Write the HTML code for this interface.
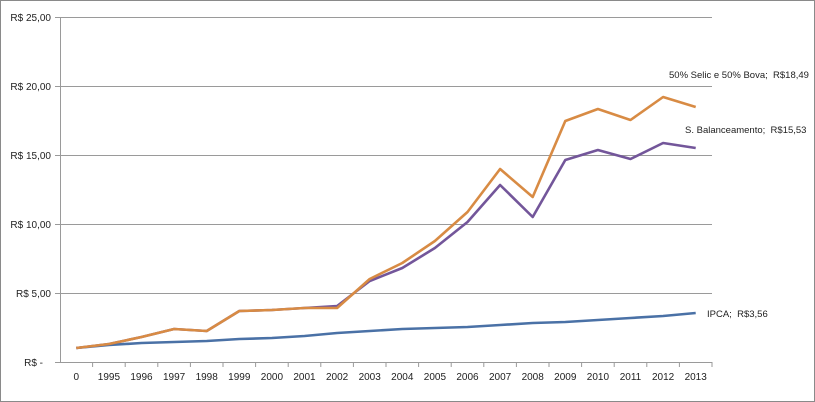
<!DOCTYPE html>
<html><head><meta charset="utf-8"><style>
html,body{margin:0;padding:0;background:#fff;}
svg{display:block;font-family:"Liberation Sans",sans-serif;}
</style></head><body>
<svg width="815" height="402" viewBox="0 0 815 402">
<rect x="0.5" y="0.5" width="814" height="401" fill="#fff" stroke="#8a8a8a"/>
<g stroke="#9a9a9a" stroke-width="1">
<line x1="55" y1="17.5" x2="712" y2="17.5"/>
<line x1="55" y1="86.5" x2="712" y2="86.5"/>
<line x1="55" y1="155.5" x2="712" y2="155.5"/>
<line x1="55" y1="224.5" x2="712" y2="224.5"/>
<line x1="55" y1="293.5" x2="712" y2="293.5"/>
<line x1="55" y1="362.5" x2="712" y2="362.5"/>
<line x1="60.5" y1="17" x2="60.5" y2="362"/>
</g>
<g stroke="#9a9a9a" id="ticks"></g>
<g font-size="10" fill="#222" text-anchor="end">
<text x="51" y="21">R$ 25,00</text>
<text x="51" y="90">R$ 20,00</text>
<text x="51" y="159">R$ 15,00</text>
<text x="51" y="228">R$ 10,00</text>
<text x="51" y="297">R$ 5,00</text>
<text x="43" y="366">R$ -</text>
</g>
<g font-size="10" fill="#222" text-anchor="middle" id="xl"></g>
<g fill="none" stroke-width="2.6" stroke-linejoin="round">
<polyline id="b" stroke="#4a71a6"/>
<polyline id="p" stroke="#73569a"/>
<polyline id="o" stroke="#d88b44"/>
</g>
<g font-size="9.5" fill="#222">
<text x="669" y="78">50% Selic e 50% Bova;&#160;&#160;R$18,49</text>
<text x="685" y="133">S. Balanceamento;&#160;&#160;R$15,53</text>
<text x="707" y="317">IPCA;&#160;&#160;R$3,56</text>
</g>
<script>
var labels=["0"];for(var y=1995;y<=2013;y++)labels.push(""+y);
var cw=32.6,x0=60;
var o=[348,344,337,329,331,311,310,308,308,279,263,241,212,169,197,121,109,120,97,107];
var p=[348,344,337,329,331,311,310,308,306,281,268,248,222,185,217,160,150,159,143,148];
var b=[348,345,343,342,341,339,338,336,333,331,329,328,327,325,323,322,320,318,316,313];
var ns="http://www.w3.org/2000/svg";
function pts(a){return a.map(function(v,i){return (x0+cw*(i+0.5)).toFixed(1)+","+v}).join(" ");}
document.getElementById("o").setAttribute("points",pts(o));
document.getElementById("p").setAttribute("points",pts(p));
document.getElementById("b").setAttribute("points",pts(b));
var xl=document.getElementById("xl"),tk=document.getElementById("ticks");
labels.forEach(function(l,i){var t=document.createElementNS(ns,"text");t.setAttribute("x",(x0+cw*(i+0.5)).toFixed(1));t.setAttribute("y","380");t.textContent=l;xl.appendChild(t);
var ln=document.createElementNS(ns,"line");var xx=(x0+cw*(i+1)).toFixed(1);ln.setAttribute("x1",xx);ln.setAttribute("x2",xx);ln.setAttribute("y1","362");ln.setAttribute("y2","367");tk.appendChild(ln);});
</script>
</svg>
</body></html>
